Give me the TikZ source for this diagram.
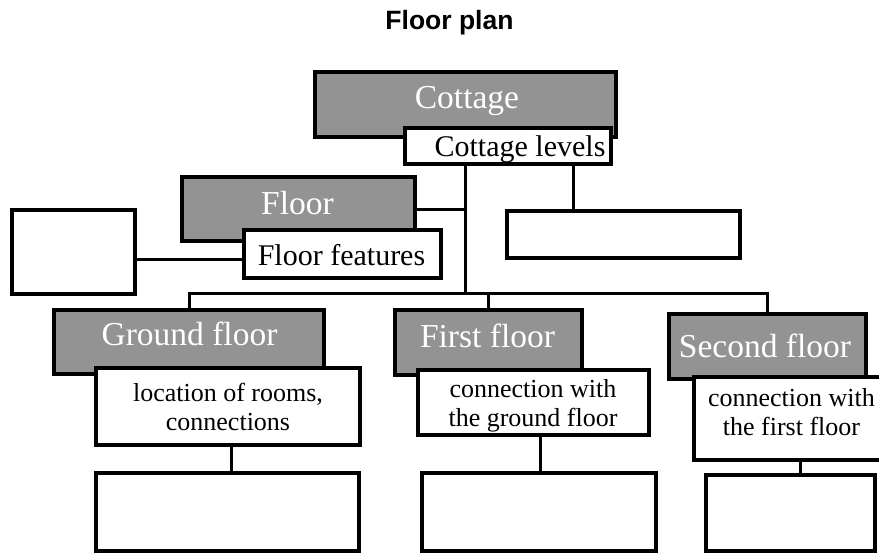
\documentclass[tikz,border=0pt]{standalone}
\usepackage{fontspec}
\setmainfont{Liberation Serif}
\newfontfamily\titlefont{Liberation Sans}
\definecolor{boxgray}{HTML}{939393}
\begin{document}
\begin{tikzpicture}[x=1pt,y=-1pt,
  boxbase/.style={draw=black, line width=4pt, inner sep=0pt, rectangle},
  graybox/.style={boxbase, fill=boxgray},
  whitebox/.style={boxbase, fill=white},
  conn/.style={line width=3pt, draw=black},
  graytext/.style={text=white, inner sep=0pt, anchor=base, font=\fontsize{33.5}{33.5}\selectfont},
  onetext/.style={text=black, inner sep=0pt, anchor=base, font=\fontsize{30}{30}\selectfont},
  twotext/.style={text=black, inner sep=0pt, anchor=base, align=center, font=\fontsize{26}{29}\selectfont},
  titletext/.style={inner sep=0pt, anchor=base, font=\titlefont\bfseries\fontsize{26.5}{26.5}\selectfont}
]
\useasboundingbox (0,0) rectangle (879,554);
\begin{scope}
\clip (0,0) rectangle (879,554);
% title
\node[titletext] (title) at (449.5,30) {Floor plan};

% cottage
\node[graybox, minimum width=301pt, minimum height=65pt] (cot) at (465.5,104.5) {};
\node[whitebox, minimum width=206pt, minimum height=36pt] (cotl) at (508,146) {};
\node[graytext] (tcot) at (467,108) {Cottage};
\node[onetext] (tcotl) at (520,156) {Cottage levels};

% floor
\node[graybox, minimum width=233pt, minimum height=64pt] (floor) at (298.5,209) {};
\node[whitebox, minimum width=197pt, minimum height=48pt] (floorf) at (342.5,254) {};
\node[graytext] (tfloor) at (297.5,214) {Floor};
\node[onetext] (tfloorf) at (341.5,265) {Floor features};
\node[whitebox, minimum width=123pt, minimum height=84pt] (leftbox) at (73.5,252) {};
\node[whitebox, minimum width=233pt, minimum height=47pt] (rightbox) at (623.5,234.5) {};

% ground floor
\node[graybox, minimum width=270pt, minimum height=64pt] (gf) at (189,342) {};
\node[whitebox, minimum width=264pt, minimum height=77pt] (gfd) at (228,406.5) {};
\node[whitebox, minimum width=263pt, minimum height=78pt] (gfe) at (227.5,512) {};
\node[graytext] (tgf) at (189.5,345) {Ground floor};
\node[twotext] (tgfd) at (228,430) {location of rooms,\\connections};

% first floor
\node[graybox, minimum width=187pt, minimum height=65pt] (ff) at (488.5,342.5) {};
\node[whitebox, minimum width=231pt, minimum height=65pt] (ffd) at (533.5,402.5) {};
\node[whitebox, minimum width=234pt, minimum height=78pt] (ffe) at (539,512) {};
\node[graytext] (tff) at (487.5,347) {First floor};
\node[twotext] (tffd) at (533,426) {connection with\\the ground floor};

% second floor
\node[graybox, minimum width=197pt, minimum height=65pt] (sf) at (767.5,346.5) {};
\node[whitebox, minimum width=212pt, minimum height=83pt] (sfd) at (800,418.5) {};
\node[whitebox, minimum width=169pt, minimum height=76pt] (sfe) at (790.5,513) {};
\node[graytext] (tsf) at (765,357) {Second floor};
\node[twotext] (tsfd) at (791.5,435) {connection with\\the first floor};

% connector helper coordinates
\coordinate (bus) at (465,293);
\coordinate (rx) at (573,0);
\coordinate (gx) at (231,0);
\coordinate (fx) at (540,0);
\coordinate (sx) at (800,0);
\coordinate (ly) at (0,259);

% connectors
\draw[conn] (cotl.south -| bus) -- (bus);
\draw[conn] (floor.east) -- (floor.east -| bus);
\draw[conn] (cotl.south -| rx) -- (rightbox.north -| rx);
\draw[conn] (leftbox.east |- ly) -- (floorf.west |- ly);
\draw[conn] (gf.north) -- (gf.north |- bus) -- (sf.north |- bus) -- (sf.north);
\draw[conn] (ff.north |- bus) -- (ff.north);
\draw[conn] (gfd.south -| gx) -- (gfe.north -| gx);
\draw[conn] (ffd.south -| fx) -- (ffe.north -| fx);
\draw[conn] (sfd.south -| sx) -- (sfe.north -| sx);
\end{scope}
\end{tikzpicture}
\end{document}
